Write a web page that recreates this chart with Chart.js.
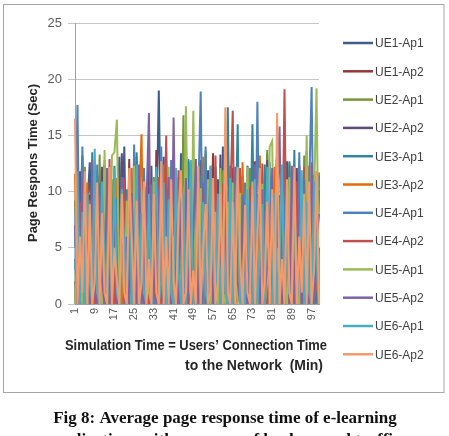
<!DOCTYPE html>
<html>
<head>
<meta charset="utf-8">
<script src="https://cdn.jsdelivr.net/npm/chart.js@4.4.0/dist/chart.umd.min.js"></script>
<style>
  html, body { margin: 0; padding: 0; background: #fff; }
  canvas { display: block; }
</style>
</head>
<body>
<canvas id="chartJS" width="449" height="436"></canvas>
<script>
// categories: simulation minute 1..100
const minutes = [];
for (let m = 1; m <= 100; m++) minutes.push(String(m));

const seriesNames = ["UE1-Ap1", "UE1-Ap2", "UE2-Ap1", "UE2-Ap2", "UE3-Ap1", "UE3-Ap2",
                     "UE4-Ap1", "UE4-Ap2", "UE5-Ap1", "UE5-Ap2", "UE6-Ap1", "UE6-Ap2"];
const seriesColors = ["#3B5E8C", "#953735", "#77933C", "#604A7B", "#31859C", "#E46C0A",
                      "#4F81BD", "#C0504D", "#9BBB59", "#8064A2", "#4BACC6", "#F59A6A"];

// page response time (sec)
const ue1Ap1 = [0, 4.2, 10.6, 2, 0, 8.7, 12.6, 1, 0, 7.3,  11.4, 3, 0, 6.1, 9.8, 2, 0, 8.2, 13.1, 3,
                14, 1, 0, 10.3, 5, 0, 11.8, 2, 9.1, 0,  3, 12.3, 0, 6.4, 19, 4, 0, 10.7, 2, 0,
                11.2, 6, 0, 13.4, 3, 0, 9.3, 1, 11.6, 0,  5, 12.8, 0, 3, 10.2, 0, 7.4, 2, 11.1, 0,
                14, 1, 0, 8.9, 4, 0, 12.2, 2, 6.3, 0,  10.4, 3, 0, 11.7, 5, 0, 8.1, 1, 13.3, 0,
                4, 10.9, 0, 7.2, 2, 0, 12.7, 3, 0, 9.4,  1, 10.1, 0, 6.2, 13.6, 0, 3, 11.5, 0, 5];
const ue1Ap2 = [2, 0, 8.3, 13.2, 1, 0, 9.7, 4, 0, 11.3,  0, 7.1, 12.4, 0, 3, 9.2, 0, 1, 10.5, 0,
                6, 0, 12.9, 2, 0, 8.4, 10.8, 0, 4, 0,  10.2, 1, 0, 13.7, 0, 5, 8.8, 0, 2, 11.6,
                0, 3, 9.9, 0, 8.2, 1, 0, 12.5, 0, 6,  9.1, 0, 2, 11.2, 0, 4, 13.4, 0, 1, 8.1,
                0, 10.6, 3, 0, 12.1, 0, 6, 1, 11.4, 0,  4, 0, 9.3, 12.7, 0, 2, 0, 10.1, 5, 0,
                11.1, 0, 3, 7.9, 0, 13.1, 1, 0, 9.6, 0,  6, 12.3, 0, 2, 10.4, 0, 4, 0, 11.8, 1];
const ue2Ap1 = [9.2, 1, 0, 6, 12.2, 0, 3, 10.1, 0, 2,  13.3, 0, 5, 1, 0, 11.1, 7, 0, 2, 12.6,
                0, 4, 8.8, 0, 1, 13.1, 0, 6, 0, 10.4,  2, 0, 11.3, 5, 0, 8.1, 0, 12.4, 1, 0,
                7, 10.3, 0, 3, 16.8, 0, 2, 9.1, 0, 12.9,  1, 0, 8.3, 13.6, 0, 5, 0, 10.2, 3, 0,
                11.9, 0, 6, 1, 0, 9.4, 11.2, 0, 2, 7,  0, 12.1, 4, 0, 9.8, 1, 0, 6, 13.7, 0,
                3, 0, 10.7, 1, 0, 8.2, 0, 12.5, 5, 0,  10.1, 2, 0, 13.2, 0, 4, 9.3, 0, 1, 11.7];
const ue2Ap2 = [4, 0, 11.8, 2, 0, 9.1, 0, 10.9, 6, 0,  3, 12.2, 0, 1, 8.3, 0, 9.9, 0, 4, 13.4,
                0, 7, 1, 0, 11.2, 3, 0, 8.8, 0, 2,  12.5, 0, 5, 9.6, 0, 1, 13.1, 0, 7, 0,
                3, 10.8, 0, 9.2, 1, 0, 12.7, 4, 0, 10.3,  0, 6, 1, 0, 11.9, 0, 3, 8.7, 0, 13.3,
                2, 0, 10.1, 5, 0, 11.4, 1, 0, 8.2, 0,  12.3, 2, 0, 7, 0, 9.7, 4, 0, 12.8, 1,
                0, 9.2, 13.4, 0, 3, 0, 10.9, 6, 0, 2,  12.1, 0, 5, 1, 0, 10.3, 0, 8.1, 3, 0];
const ue3Ap1 = [0, 9.8, 3, 0, 8.2, 1, 0, 13.5, 2, 0,  10.7, 5, 0, 9.3, 0, 2, 12.3, 0, 6, 1,
                0, 10.2, 4, 0, 7, 13.5, 0, 1, 11.3, 0,  5, 0, 9.1, 2, 0, 12.6, 3, 0, 10.4, 0,
                1, 8.4, 0, 11.1, 0, 4, 12.9, 0, 2, 9.2,  0, 11.4, 6, 0, 1, 9.9, 0, 12.2, 0, 3,
                9.1, 0, 17.5, 1, 0, 5, 16, 0, 2, 10.3,  0, 4, 16, 0, 1, 8.9, 0, 12.4, 0, 6,
                10.8, 0, 2, 9.7, 0, 4, 0, 12.7, 1, 13.7,  0, 8.2, 3, 0, 11.3, 0, 6, 1, 0, 10.1];
const ue3Ap2 = [11.6, 0, 5, 1, 0, 10.8, 0, 8.1, 3, 0,  9.3, 0, 12.8, 2, 0, 6, 0, 11.2, 1, 0,
                9.7, 4, 0, 12.1, 0, 2, 8.8, 15.1, 0, 6,  0, 10.6, 1, 0, 9.2, 0, 12.4, 3, 0, 8.3,
                0, 2, 11.3, 0, 6, 12.2, 0, 1, 9.9, 0,  4, 0, 13.1, 1, 0, 9.1, 0, 10.9, 2, 0,
                7, 11.8, 0, 3, 0, 10.2, 1, 0, 12.6, 0,  5, 0, 8.9, 2, 0, 13.2, 0, 3, 10.4, 0,
                1, 12.2, 0, 6, 0, 9.2, 2, 0, 11.1, 0,  4, 0, 9.8, 1, 0, 12.3, 0, 7, 2, 0];
const ue4Ap1 = [5, 17.7, 0, 14, 2, 0, 9.2, 1, 0, 12.4,  0, 6, 1, 0, 10.2, 3, 0, 9.4, 0, 11.3,
                2, 0, 8.1, 1, 14.2, 0, 5, 0, 12.1, 1,  0, 10.6, 0, 4, 1, 14, 0, 8.7, 0, 12.8,
                3, 0, 9.7, 1, 0, 7, 0, 11.2, 2, 0,  9.3, 18.9, 0, 14, 0, 3, 10.1, 0, 1, 11.6,
                0, 6, 0, 12.3, 2, 0, 9.1, 1, 0, 10.8,  3, 0, 10.2, 0, 18, 1, 0, 8.3, 0, 12.6,
                0, 5, 9.8, 0, 1, 11.1, 0, 4, 0, 9.2,  2, 13.5, 0, 6, 0, 10.3, 19.3, 0, 3, 11.4];
const ue4Ap2 = [1, 0, 9.1, 0, 10.8, 4, 0, 12.2, 0, 6,  2, 0, 9.8, 0, 12.9, 1, 0, 7, 0, 9.3,
                11.2, 0, 3, 0, 12.4, 0, 6, 1, 0, 10.1,  0, 8.2, 2, 0, 11.3, 0, 4, 15, 0, 1,
                9.2, 0, 11.9, 0, 2, 10.2, 0, 5, 0, 12.3,  0, 3, 9.8, 0, 8.1, 1, 0, 13.2, 0, 4,
                10.7, 0, 2, 9.3, 17.2, 0, 1, 12.1, 0, 5,  0, 10.4, 1, 0, 7, 0, 12.5, 2, 0, 9.1,
                0, 4, 11.2, 0, 2, 19.1, 0, 8.9, 1, 0,  10.9, 0, 3, 12.2, 0, 1, 8.2, 0, 10.3, 2];
const ue5Ap1 = [0, 8.1, 2, 0, 9.8, 0, 6, 1, 11.2, 0,  3, 0, 13.7, 0, 2, 13.2, 13.5, 16.4, 0, 5,
                0, 9.2, 1, 0, 12.3, 0, 3, 10.1, 0, 7,  1, 0, 10.9, 0, 5, 9.7, 0, 2, 12.2, 0,
                6, 0, 8.9, 1, 0, 17.6, 3, 0, 17.2, 1,  0, 10.3, 4, 0, 11.1, 0, 2, 8.2, 0, 12.1,
                1, 0, 9.1, 0, 10.8, 3, 0, 9.9, 0, 4,  12.2, 0, 1, 9.3, 0, 6, 10.7, 0, 2, 14,
                14.5, 0, 5, 0, 9.8, 2, 0, 11.3, 0, 7,  1, 0, 10.9, 3, 15, 0, 2, 9.8, 19.2, 0];
const ue5Ap2 = [7, 0, 1, 10.9, 0, 5, 0, 12.8, 1, 0,  9.8, 2, 0, 12.1, 0, 4, 8.9, 0, 1, 11.2,
                0, 6, 0, 9.9, 3, 0, 12.4, 1, 0, 9.1,  17, 0, 4, 0, 10.3, 1, 0, 7, 11.3, 0,
                16.6, 2, 0, 8.8, 0, 11.2, 1, 0, 6, 12.9,  0, 2, 10.8, 0, 5, 12.3, 0, 1, 9.2, 0,
                3, 10.9, 0, 6, 0, 12.2, 2, 0, 9.7, 1,  0, 9.1, 0, 12.4, 3, 0, 10.2, 0, 5, 1,
                12.1, 0, 8.2, 15.8, 0, 3, 9.9, 0, 12.3, 0,  2, 8.8, 0, 11.1, 1, 0, 12.6, 0, 6, 8];
const ue6Ap1 = [3, 11.8, 0, 8.2, 0, 9.9, 2, 0, 13.8, 1,  0, 10.9, 4, 0, 9.1, 0, 12.1, 1, 0, 10.2,
                5, 0, 11.3, 0, 3, 12.4, 0, 8.1, 1, 0,  9.8, 0, 6, 12.2, 0, 2, 10.8, 0, 9.3, 1,
                0, 12.1, 3, 0, 9.9, 0, 5, 12.8, 0, 2,  10.9, 0, 9.1, 1, 0, 12.3, 4, 0, 9.8, 0,
                6, 1, 0, 11.2, 0, 8.3, 12.1, 0, 3, 0,  10.2, 1, 0, 11.1, 0, 5, 8.9, 0, 12.2, 2,
                0, 9.8, 0, 4, 12.4, 0, 7, 1, 0, 10.8,  0, 3, 11.9, 0, 9.1, 1, 0, 10.9, 4, 0];
const ue6Ap2 = [16.5, 0, 6, 1, 11.8, 0, 8.9, 0, 2, 10.8,  0, 8.1, 1, 0, 12.2, 0, 5, 2, 0, 9.8,
                1, 0, 12.1, 6, 0, 9.2, 0, 2, 10.9, 0,  4, 0, 9.8, 1, 0, 12.7, 0, 6, 0, 11.1,
                2, 0, 8.2, 11.9, 0, 1, 10.2, 0, 3, 0,  12.3, 0, 5, 8.9, 0, 1, 11.2, 0, 2, 9.8,
                0, 17.5, 1, 0, 9.1, 0, 12.2, 4, 0, 8.8,  1, 0, 10.9, 0, 6, 12.1, 0, 2, 9.1, 0,
                10.2, 0, 17, 0, 4, 0, 11.1, 1, 0, 12.2,  0, 6, 1, 9.8, 0, 10.9, 0, 3, 11.8, 0];

const seriesValues = [ue1Ap1, ue1Ap2, ue2Ap1, ue2Ap2, ue3Ap1, ue3Ap2,
                      ue4Ap1, ue4Ap2, ue5Ap1, ue5Ap2, ue6Ap1, ue6Ap2];

const yTicks = [0, 5, 10, 15, 20, 25];
const xTickEvery = 8;

const yTitle = "Page Respons Time (Sec)";
const xTitle1 = "Simulation Time = Users\u2019 Connection Time";
const xTitle2 = "to the Network  (Min)";
const caption1 = "Fig 8: Average page response time of e-learning";
const caption2 = "applications with presence of background traffic";

// frame, titles, legend and caption
const decorations = {
    id: 'decorations',
    beforeDraw: (chart) => {
        const ctx = chart.ctx;
        ctx.save();
        ctx.fillStyle = '#fff';
        ctx.fillRect(0, 0, chart.width, chart.height);
        ctx.restore();
    },
    afterDraw: (chart) => {
        const ctx = chart.ctx;
        ctx.save();

        // outer chart border
        ctx.strokeStyle = '#a6a6a6';
        ctx.lineWidth = 1;
        ctx.strokeRect(3.5, 4.5, 440.5, 388);

        // y axis title
        ctx.fillStyle = '#262626';
        ctx.font = 'bold 13px "Liberation Sans", Arial, sans-serif';
        ctx.textAlign = 'center';
        ctx.textBaseline = 'middle';
        ctx.save();
        ctx.translate(33, 163);
        ctx.rotate(-Math.PI / 2);
        ctx.fillText(yTitle, 0, 0, 158);
        ctx.restore();

        // x axis title (two lines)
        ctx.font = 'bold 14px "Liberation Sans", Arial, sans-serif';
        ctx.textAlign = 'left';
        ctx.textBaseline = 'alphabetic';
        ctx.fillText(xTitle1, 65, 350, 262);
        ctx.fillText(xTitle2, 185, 370, 138);

        // legend
        ctx.font = '12px "Liberation Sans", Arial, sans-serif';
        ctx.textBaseline = 'middle';
        chart.data.datasets.forEach((ds, i) => {
            const y = 43 + i * 28.3;
            ctx.strokeStyle = ds.borderColor;
            ctx.lineWidth = 2.5;
            ctx.beginPath();
            ctx.moveTo(343, y);
            ctx.lineTo(373, y);
            ctx.stroke();
            ctx.fillStyle = '#404040';
            ctx.fillText(ds.label, 375, y + 1, 54);
        });

        // figure caption below the chart
        ctx.fillStyle = '#111';
        ctx.font = 'bold 17px "Liberation Serif", "Times New Roman", serif';
        ctx.textAlign = 'center';
        ctx.textBaseline = 'alphabetic';
        ctx.fillText(caption1, 225, 423, 364);
        ctx.fillText(caption2, 225, 445, 364);

        ctx.restore();
    }
};

const datasets = seriesNames.map((name, i) => ({
    label: name,
    data: seriesValues[i],
    borderColor: seriesColors[i],
    backgroundColor: seriesColors[i],
    borderWidth: 2,
    pointRadius: 0,
    tension: 0,
    fill: false,
    order: seriesNames.length - i
}));

const ctx = document.getElementById('chartJS').getContext('2d');
const chart = new Chart(ctx, {
    type: 'line',
    data: { labels: minutes, datasets: datasets },
    plugins: [decorations],
    options: {
        responsive: false,
        animation: false,
        layout: { padding: { left: 0, right: 130, top: 23, bottom: 0 } },
        plugins: {
            legend: { display: false },
            tooltip: { enabled: false }
        },
        scales: {
            x: {
                afterFit: (scale) => { scale.height = 132; },
                grid: { drawOnChartArea: false, drawTicks: false },
                border: { display: true, color: '#a0a0a0' },
                ticks: {
                    autoSkip: false,
                    minRotation: 90,
                    maxRotation: 90,
                    padding: 4,
                    color: '#595959',
                    font: { family: '"Liberation Sans", Arial, sans-serif', size: 11 },
                    callback: (val, idx) => idx % xTickEvery === 0 ? minutes[idx] : ''
                }
            },
            y: {
                min: yTicks[0],
                max: yTicks[yTicks.length - 1],
                afterFit: (scale) => { scale.width = 75; },
                afterBuildTicks: (scale) => { scale.ticks = yTicks.map(v => ({ value: v })); },
                grid: { color: '#c4c4c4', tickLength: 7, lineWidth: 1 },
                border: { display: true, color: '#a0a0a0' },
                ticks: {
                    padding: 6,
                    color: '#595959',
                    font: { family: '"Liberation Sans", Arial, sans-serif', size: 13 }
                }
            }
        }
    }
});
</script>
</body>
</html>
